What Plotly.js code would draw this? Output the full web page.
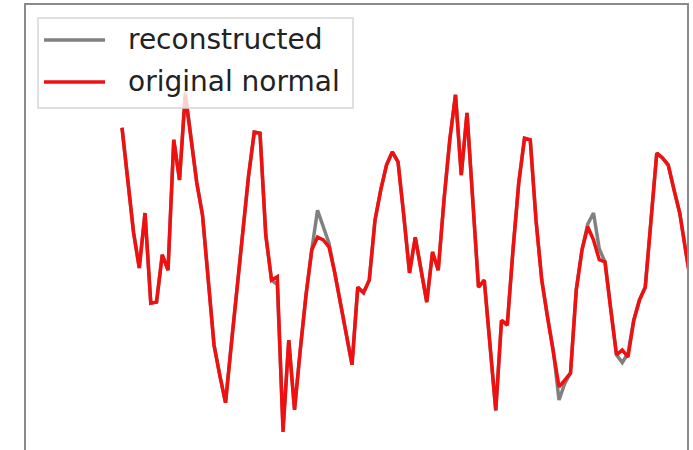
<!DOCTYPE html>
<html>
<head>
<meta charset="utf-8">
<script src="https://cdn.plot.ly/plotly-3.0.1.min.js"></script>
<style>html,body{margin:0;padding:0;overflow:hidden;background:#fff;}</style>
</head>
<body>
<div id="chart" style="width:693px;height:460px;"></div>
<script>
const seriesNames = ["reconstructed", "original normal"];

const originalNormal = [
  2.55, 1.60, 0.65, 0.00, 1.00, -0.64, -0.62, 0.24, -0.04, 2.33,
  1.60, 3.15, 2.33, 1.55, 0.96, -0.31, -1.40, -1.95, -2.45, -1.40,
  -0.36, 0.69, 1.67, 2.47, 2.45, 0.60, -0.22, -0.16, -2.98, -1.31,
  -2.58, -1.49, -0.49, 0.33, 0.56, 0.51, 0.38, -0.09, -0.62, -1.15,
  -1.76, -0.35, -0.45, -0.22, 0.87, 1.42, 1.87, 2.11, 1.93, 0.96,
  -0.09, 0.56, -0.04, -0.62, 0.29, -0.04, 1.24, 2.33, 3.15, 1.69,
  2.82, 1.24, -0.35, -0.22, -1.40, -2.58, -0.95, -1.04, 0.33, 1.55,
  2.36, 2.33, 0.87, -0.22, -0.89, -1.49, -2.16, -2.04, -1.91, -0.40,
  0.33, 0.75, 0.51, 0.15, 0.11, -0.76, -1.58, -1.49, -1.62, -0.95,
  -0.58, -0.35, 0.87, 2.09, 2.00, 1.87, 1.42, 1.00, 0.33, -0.31
];

const reconstructed = [
  2.55, 1.60, 0.65, 0.00, 1.00, -0.64, -0.62, 0.24, -0.04, 2.33,
  1.60, 3.20, 2.33, 1.55, 0.96, -0.31, -1.40, -1.95, -2.45, -1.40,
  -0.36, 0.69, 1.67, 2.47, 2.45, 0.60, -0.22, -0.30, -2.90, -1.31,
  -2.58, -1.49, -0.49, 0.33, 1.05, 0.75, 0.45, -0.09, -0.62, -1.15,
  -1.76, -0.35, -0.45, -0.22, 0.87, 1.42, 1.87, 2.11, 1.93, 0.96,
  -0.09, 0.56, -0.04, -0.62, 0.29, -0.04, 1.24, 2.33, 3.15, 1.69,
  2.82, 1.24, -0.35, -0.22, -1.40, -2.60, -0.95, -1.04, 0.33, 1.55,
  2.36, 2.33, 0.87, -0.22, -0.89, -1.49, -2.40, -2.10, -1.91, -0.40,
  0.33, 0.80, 1.00, 0.35, 0.11, -0.76, -1.58, -1.72, -1.55, -0.95,
  -0.58, -0.35, 0.87, 2.09, 2.00, 1.87, 1.42, 1.00, 0.33, -0.31
];

const timeIndex = originalNormal.map((_, i) => i);

// pixel helpers for the hand-drawn legend (plot area: x 26..687, y 5..460)
const W = 693, H = 460, ML = 26, MR = 6, MT = 5, MB = 0;
const px = x => (x - ML) / (W - ML - MR);
const py = y => (H - MB - y) / (H - MT - MB);

const traces = [
  {x: timeIndex, y: reconstructed, name: seriesNames[0], mode: "lines",
   line: {color: "#808080", width: 3.5}},
  {x: timeIndex, y: originalNormal, name: seriesNames[1], mode: "lines",
   line: {color: "#f01010", width: 3.5}}
];

const layout = {
  width: W, height: H,
  margin: {l: ML, r: MR, t: MT, b: MB, pad: 0},
  paper_bgcolor: "#fff", plot_bgcolor: "#fff",
  showlegend: false,
  xaxis: {range: [-16.7, 98.26], showline: true, mirror: true, linecolor: "#8a8a8a", linewidth: 2,
          showgrid: false, zeroline: false, showticklabels: false, ticks: ""},
  yaxis: {range: [-3.491, 4.782], showline: true, mirror: true, linecolor: "#8a8a8a", linewidth: 2,
          showgrid: false, zeroline: false, showticklabels: false, ticks: ""},
  shapes: [
    {type: "rect", xref: "paper", yref: "paper", layer: "above",
     x0: px(38), x1: px(353), y0: py(108), y1: py(18),
     fillcolor: "rgba(255,255,255,0.8)", line: {color: "#d6d6d6", width: 1.5}},
    {type: "line", xref: "paper", yref: "paper", layer: "above",
     x0: px(44), x1: px(105), y0: py(40), y1: py(40), line: {color: "#808080", width: 3.5}},
    {type: "line", xref: "paper", yref: "paper", layer: "above",
     x0: px(44), x1: px(105), y0: py(82), y1: py(82), line: {color: "#f01010", width: 3.5}}
  ],
  annotations: [
    {xref: "paper", yref: "paper", x: px(126), y: py(40), xanchor: "left", yanchor: "middle",
     text: seriesNames[0], showarrow: false, font: {family: "DejaVu Sans", size: 28, color: "#222"}},
    {xref: "paper", yref: "paper", x: px(126), y: py(82), xanchor: "left", yanchor: "middle",
     text: seriesNames[1], showarrow: false, font: {family: "DejaVu Sans", size: 28, color: "#222"}}
  ]
};

Plotly.newPlot("chart", traces, layout, {displayModeBar: false, staticPlot: true});
</script>
</body>
</html>
